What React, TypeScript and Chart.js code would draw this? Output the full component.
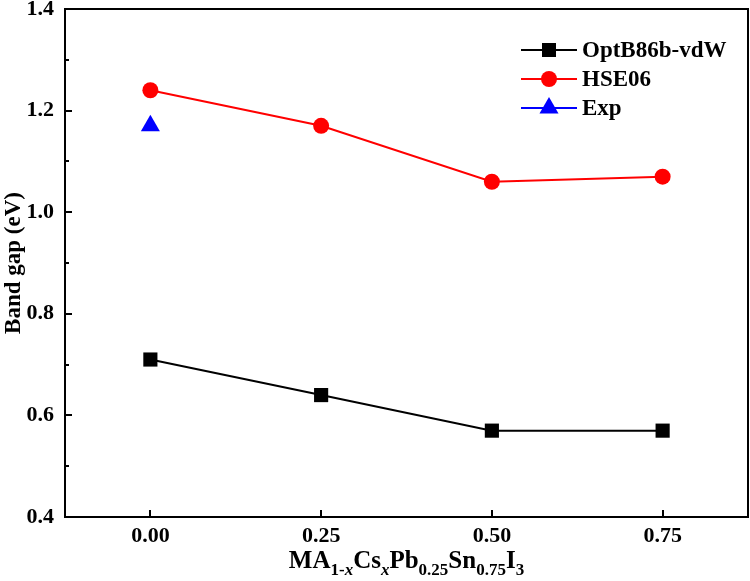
import React, { useEffect, useRef } from "react";
import { Chart, registerables } from "chart.js";

Chart.register(...registerables);

const xValues = [0.0, 0.25, 0.5, 0.75];
const optB86b = [0.71, 0.64, 0.57, 0.57];
const hse06 = [1.24, 1.17, 1.06, 1.07];
const expX = [0.0];
const expY = [1.17];
const seriesNames = ["OptB86b-vdW", "HSE06", "Exp"];
const xTicks = [0.0, 0.25, 0.5, 0.75];
const yTicks = [0.4, 0.6, 0.8, 1.0, 1.2, 1.4];
const yMinorTicks = [0.5, 0.7, 0.9, 1.1, 1.3];
const yTitle = "Band gap (eV)";

const FONT = "'Liberation Serif', 'Times New Roman', serif";

function drawMarker(ctx: CanvasRenderingContext2D, style: string, x: number, y: number, color: string) {
  ctx.save();
  ctx.fillStyle = color;
  ctx.beginPath();
  if (style === "rect") {
    ctx.rect(x - 7, y - 7, 14, 14);
  } else if (style === "circle") {
    ctx.arc(x, y, 8, 0, Math.PI * 2);
  } else {
    const r = 11;
    ctx.moveTo(x, y - r);
    ctx.lineTo(x + r * Math.sin((2 * Math.PI) / 3), y - r * Math.cos((2 * Math.PI) / 3));
    ctx.lineTo(x + r * Math.sin((4 * Math.PI) / 3), y - r * Math.cos((4 * Math.PI) / 3));
    ctx.closePath();
  }
  ctx.fill();
  ctx.restore();
}

const decorPlugin = {
  id: "decor",
  afterDraw(chart: any) {
    const ctx: CanvasRenderingContext2D = chart.ctx;
    const area = chart.chartArea;
    const xs = chart.scales.x;
    const ys = chart.scales.y;
    ctx.save();
    ctx.strokeStyle = "#000";
    ctx.lineWidth = 2;
    ctx.strokeRect(area.left, area.top, area.right - area.left, area.bottom - area.top);
    // inward ticks
    ctx.beginPath();
    for (const v of xTicks) {
      const px = Math.round(xs.getPixelForValue(v));
      ctx.moveTo(px, area.bottom);
      ctx.lineTo(px, area.bottom - 7);
    }
    for (const v of yTicks) {
      const py = Math.round(ys.getPixelForValue(v));
      ctx.moveTo(area.left, py);
      ctx.lineTo(area.left + 7, py);
    }
    for (const v of yMinorTicks) {
      const py = Math.round(ys.getPixelForValue(v));
      ctx.moveTo(area.left, py);
      ctx.lineTo(area.left + 4, py);
    }
    ctx.stroke();

    // legend
    const datasets = chart.data.datasets;
    const rows = [50, 79, 108];
    datasets.forEach((ds: any, i: number) => {
      const y = rows[i];
      ctx.strokeStyle = ds.borderColor;
      ctx.lineWidth = 2;
      ctx.beginPath();
      ctx.moveTo(521, y);
      ctx.lineTo(577, y);
      ctx.stroke();
      drawMarker(ctx, ds.pointStyle, 549, y, ds.backgroundColor);
      ctx.fillStyle = "#000";
      ctx.font = `bold 23px ${FONT}`;
      ctx.textAlign = "left";
      ctx.textBaseline = "middle";
      ctx.fillText(ds.label, 582, y + 1);
    });

    // y title
    ctx.save();
    ctx.translate(14, (area.top + area.bottom) / 2);
    ctx.rotate(-Math.PI / 2);
    ctx.font = `bold 23px ${FONT}`;
    ctx.fillStyle = "#000";
    ctx.textAlign = "center";
    ctx.textBaseline = "middle";
    ctx.fillText(yTitle, 0, 0);
    ctx.restore();

    // x title with subscripts
    const parts: [string, string, number][] = [
      ["MA", `bold 25px ${FONT}`, 0],
      ["1-", `bold 17px ${FONT}`, 7],
      ["x", `italic bold 17px ${FONT}`, 7],
      ["Cs", `bold 25px ${FONT}`, 0],
      ["x", `italic bold 17px ${FONT}`, 7],
      ["Pb", `bold 25px ${FONT}`, 0],
      ["0.25", `bold 17px ${FONT}`, 7],
      ["Sn", `bold 25px ${FONT}`, 0],
      ["0.75", `bold 17px ${FONT}`, 7],
      ["I", `bold 25px ${FONT}`, 0],
      ["3", `bold 17px ${FONT}`, 7],
    ];
    let total = 0;
    for (const [t, f] of parts) {
      ctx.font = f;
      total += ctx.measureText(t).width;
    }
    let cx = (area.left + area.right) / 2 - total / 2;
    const baseY = 568;
    ctx.textAlign = "left";
    ctx.textBaseline = "alphabetic";
    ctx.fillStyle = "#000";
    for (const [t, f, dy] of parts) {
      ctx.font = f;
      ctx.fillText(t, cx, baseY + dy);
      cx += ctx.measureText(t).width;
    }
    ctx.restore();
  },
};

export default function App() {
  const ref = useRef<HTMLCanvasElement>(null);
  useEffect(() => {
    if (!ref.current) return;
    const chart = new Chart(ref.current, {
      type: "line",
      data: {
        datasets: [
          {
            label: seriesNames[0],
            data: xValues.map((x, i) => ({ x, y: optB86b[i] })),
            borderColor: "#000000",
            backgroundColor: "#000000",
            pointStyle: "rect",
            pointRadius: 10,
            pointBorderWidth: 0,
            borderWidth: 2,
          },
          {
            label: seriesNames[1],
            data: xValues.map((x, i) => ({ x, y: hse06[i] })),
            borderColor: "#ff0000",
            backgroundColor: "#ff0000",
            pointStyle: "circle",
            pointRadius: 8,
            pointBorderWidth: 0,
            borderWidth: 2,
          },
          {
            label: seriesNames[2],
            data: expX.map((x, i) => ({ x, y: expY[i] })),
            borderColor: "#0000ff",
            backgroundColor: "#0000ff",
            pointStyle: "triangle",
            pointRadius: 11,
            pointBorderWidth: 0,
            borderWidth: 2,
            showLine: false,
          },
        ],
      },
      options: {
        responsive: false,
        animation: false,
        layout: { autoPadding: false, padding: { top: 9, right: 2, left: 0, bottom: 0 } },
        plugins: { legend: { display: false }, tooltip: { enabled: false } },
        scales: {
          x: {
            type: "linear",
            min: -0.125,
            max: 0.875,
            afterBuildTicks: (s: any) => {
              s.ticks = xTicks.map((v) => ({ value: v }));
            },
            afterFit: (s: any) => {
              s.height = 64;
              s.paddingLeft = 0;
              s.paddingRight = 0;
              s.paddingTop = 0;
              s.paddingBottom = 0;
            },
            grid: { display: false, drawTicks: false },
            border: { display: false },
            ticks: {
              padding: 6,
              color: "#000",
              font: { family: FONT, size: 22, weight: "bold" },
              callback: (v: any) => Number(v).toFixed(2),
              maxRotation: 0,
            },
          },
          y: {
            type: "linear",
            min: 0.4,
            max: 1.4,
            afterBuildTicks: (s: any) => {
              s.ticks = yTicks.map((v) => ({ value: v }));
            },
            afterFit: (s: any) => {
              s.width = 65;
              s.paddingLeft = 0;
              s.paddingRight = 0;
              s.paddingTop = 0;
              s.paddingBottom = 0;
            },
            grid: { display: false, drawTicks: false },
            border: { display: false },
            ticks: {
              padding: 11,
              color: "#000",
              font: { family: FONT, size: 22, weight: "bold" },
              callback: (v: any) => Number(v).toFixed(1),
            },
          },
        },
      },
      plugins: [decorPlugin],
    } as any);
    return () => chart.destroy();
  }, []);
  return (
    <div style={{ position: "absolute", left: 0, top: 0, width: 750, height: 581, background: "#fff" }}>
      <canvas ref={ref} width={750} height={581} style={{ display: "block" }} />
    </div>
  );
}
